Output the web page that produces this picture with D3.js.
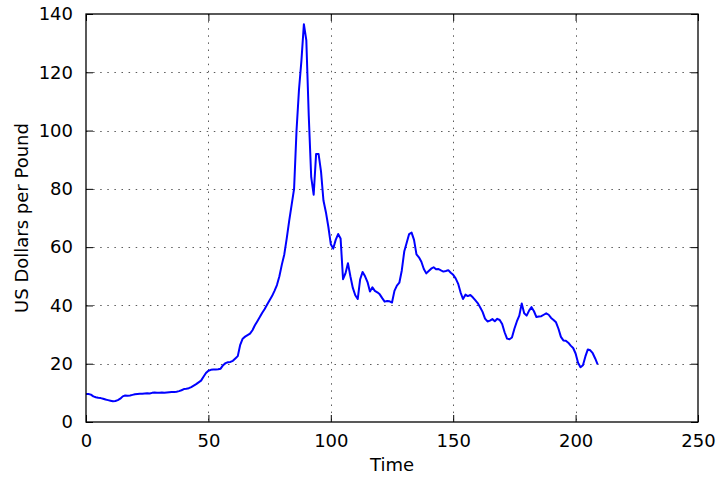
<!DOCTYPE html>
<html>
<head>
<meta charset="utf-8">
<script src="https://cdn.jsdelivr.net/npm/d3@7"></script>
<style>
  html, body { margin: 0; padding: 0; background: #fff; }
  svg { display: block; }
  text { font-family: "DejaVu Sans", sans-serif; fill: #000; }
</style>
</head>
<body>
<svg id="chart" width="716" height="477"></svg>
<script>
// Price series, one value per time step (t = 0, 1, 2, ...)
const prices = [
  9.6, 9.6, 9.4, 8.8, 8.5, 8.3, 8.2, 8.0, 7.7, 7.5,
  7.3, 7.1, 7.2, 7.5, 8.0, 8.8, 9.1, 9.0, 9.1, 9.3,
  9.5, 9.6, 9.7, 9.7, 9.8, 9.9, 9.8, 10.0, 10.1, 10.0,
  10.0, 10.1, 10.0, 10.1, 10.2, 10.3, 10.3, 10.4, 10.6, 10.9,
  11.3, 11.4, 11.6, 12.0, 12.5, 13.0, 13.6, 14.2, 15.5, 16.8,
  17.6, 17.9, 18.0, 18.0, 18.1, 18.3, 19.5, 20.2, 20.5, 20.6,
  21.0, 21.8, 22.6, 26.5, 28.6, 29.3, 29.8, 30.3, 31.5, 33.2,
  34.6, 36.0, 37.5, 38.8, 40.3, 41.8, 43.2, 45.0, 47.0, 50.0,
  54.0, 57.5, 63.0, 69.0, 74.5, 80.0, 100.0, 114.0, 124.0, 136.5,
  131.0, 105.0, 84.0, 78.0, 92.0, 92.0, 86.0, 76.0, 72.0, 67.0,
  61.0, 59.5, 62.5, 64.5, 63.0, 49.0, 51.0, 54.5, 50.0, 46.0,
  43.5, 42.2, 49.0, 51.5, 50.0, 48.0, 44.8, 46.2, 45.0, 44.5,
  43.8, 42.5, 41.3, 41.5, 41.4, 41.0, 45.0, 46.8, 47.8, 52.0,
  58.5, 61.5, 64.5, 65.0, 62.5, 57.5, 56.5, 55.0, 52.5, 51.0,
  51.8, 52.6, 53.1, 52.4, 52.5, 52.0, 51.6, 51.8, 52.1, 51.2,
  50.5, 49.3, 47.5, 44.5, 42.2, 43.7, 43.2, 43.6, 42.8, 41.8,
  40.8, 39.4, 37.8, 35.5, 34.5, 34.8, 35.3, 34.6, 35.4, 35.0,
  33.6, 30.8, 28.6, 28.4, 29.0, 32.0, 34.5, 36.5, 40.7, 37.3,
  36.5, 38.2, 39.4, 38.0, 36.0, 36.2, 36.3, 36.8, 37.3, 36.8,
  35.7, 35.0, 34.2, 32.0, 29.2, 28.0, 27.9, 27.2, 26.2, 25.4,
  23.5, 20.3, 18.8, 19.5, 22.5, 24.9, 24.6, 23.6, 21.8, 19.8
];
const xTicks = [0, 50, 100, 150, 200, 250];
const yTicks = [0, 20, 40, 60, 80, 100, 120, 140];
const xDomain = [0, 250];
const yDomain = [0, 140];
const xLabel = "Time";
const yLabel = "US Dollars per Pound";

const svg = d3.select("#chart");
const margin = { left: 86, right: 18, top: 14, bottom: 55 };
const W = 716, H = 477;
const iw = W - margin.left - margin.right;
const ih = H - margin.top - margin.bottom;

const x = d3.scaleLinear().domain(xDomain).range([0, iw]);
const y = d3.scaleLinear().domain(yDomain).range([ih, 0]);

const g = svg.append("g").attr("transform", `translate(${margin.left},${margin.top})`);

// dotted grid
const grid = g.append("g").attr("stroke", "#333").attr("stroke-width", 1)
  .attr("stroke-dasharray", "1.5,5.6").attr("opacity", 0.8);
grid.selectAll("line.gx").data(xTicks.slice(1, -1)).join("line")
  .attr("x1", d => Math.round(x(d)) + 0.5).attr("x2", d => Math.round(x(d)) + 0.5)
  .attr("y1", 0).attr("y2", ih);
grid.selectAll("line.gy").data(yTicks.slice(1, -1)).join("line")
  .attr("y1", d => Math.round(y(d)) + 0.5).attr("y2", d => Math.round(y(d)) + 0.5)
  .attr("x1", 0).attr("x2", iw);

// price line
const line = d3.line().x((d, i) => x(i)).y(d => y(d));
g.append("path").datum(prices)
  .attr("fill", "none").attr("stroke", "#0000ff").attr("stroke-width", 2)
  .attr("stroke-linejoin", "round").attr("d", line);

// axes with inward ticks on all four sides
const tickLen = 7;
const fs = 18;
const axB = d3.axisBottom(x).tickValues(xTicks).tickSizeInner(-tickLen).tickSizeOuter(0).tickPadding(12);
const axT = d3.axisTop(x).tickValues(xTicks).tickSizeInner(-tickLen).tickSizeOuter(0).tickFormat("");
const axL = d3.axisLeft(y).tickValues(yTicks).tickSizeInner(-tickLen).tickSizeOuter(0).tickPadding(13);
const axR = d3.axisRight(y).tickValues(yTicks).tickSizeInner(-tickLen).tickSizeOuter(0).tickFormat("");

function styleAxis(sel) {
  sel.select(".domain").remove();
  sel.selectAll("line").attr("stroke", "#000").attr("stroke-width", 1);
  sel.selectAll("text").attr("font-size", fs).attr("font-family", "DejaVu Sans, sans-serif").attr("fill", "#222");
}
g.append("g").attr("transform", `translate(0,${ih})`).call(axB).call(styleAxis);
g.append("g").call(axT).call(styleAxis);
g.append("g").call(axL).call(styleAxis);
g.append("g").attr("transform", `translate(${iw},0)`).call(axR).call(styleAxis);

// frame
g.append("rect").attr("x", 0).attr("y", 0).attr("width", iw).attr("height", ih)
  .attr("fill", "none").attr("stroke", "#000").attr("stroke-width", 1.3);

// axis titles
svg.append("text").attr("x", margin.left + iw / 2).attr("y", 471)
  .attr("text-anchor", "middle").attr("font-size", fs).attr("fill", "#222").text(xLabel);
svg.append("text").attr("transform", `translate(28,${margin.top + ih / 2}) rotate(-90)`)
  .attr("text-anchor", "middle").attr("font-size", fs).attr("fill", "#222").text(yLabel);
</script>
</body>
</html>
